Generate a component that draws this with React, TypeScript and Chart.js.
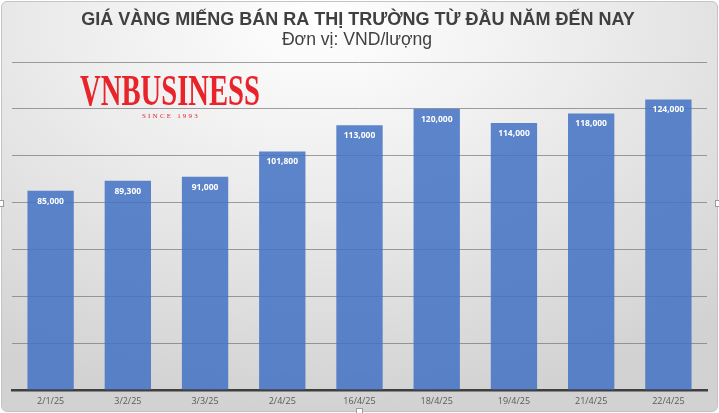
import React, { useEffect, useRef } from "react";
import { Chart, registerables } from "chart.js";

Chart.register(...registerables);

const categories = ["2/1/25", "3/2/25", "3/3/25", "2/4/25", "16/4/25", "18/4/25", "19/4/25", "21/4/25", "22/4/25"];
const prices = [85000, 89300, 91000, 101800, 113000, 120000, 114000, 118000, 124000];
const priceLabels = ["85,000", "89,300", "91,000", "101,800", "113,000", "120,000", "114,000", "118,000", "124,000"];
const yTicks = [0, 20000, 40000, 60000, 80000, 100000, 120000, 140000];
const titleText = "GIÁ VÀNG MIẾNG BÁN RA THỊ TRƯỜNG TỪ ĐẦU NĂM ĐẾN NAY";
const subtitleText = "Đơn vị: VND/lượng";
const logoText = "VNBUSINESS";
const logoSub = "SINCE 1993";

const overlayPlugin = {
  id: "overlay",
  afterDatasetsDraw(chart: any) {
    const ctx = chart.ctx;
    const meta = chart.getDatasetMeta(0);
    ctx.save();
    ctx.fillStyle = "#ffffff";
    ctx.font = "bold 8.5px 'Open Sans'";
    ctx.textAlign = "center";
    ctx.textBaseline = "middle";
    meta.data.forEach((bar: any, i: number) => {
      ctx.fillText(priceLabels[i], bar.x, bar.y + 10.5);
    });
    ctx.restore();
  },
  afterDraw(chart: any) {
    const ctx = chart.ctx;
    ctx.save();
    // title
    ctx.fillStyle = "#404040";
    ctx.textAlign = "center";
    ctx.textBaseline = "alphabetic";
    ctx.font = "bold 18px 'Liberation Sans'";
    ctx.fillText(titleText, 358, 24.5);
    ctx.font = "17.6px 'Liberation Sans'";
    ctx.fillText(subtitleText, 357, 45);
    // logo
    ctx.fillStyle = "#e8232a";
    ctx.font = "bold 44px 'Liberation Serif'";
    ctx.textAlign = "left";
    const w = ctx.measureText(logoText).width;
    ctx.save();
    ctx.translate(80, 105);
    ctx.scale(180 / w, 1);
    ctx.fillText(logoText, 0, 0);
    ctx.restore();
    ctx.font = "7px 'Liberation Serif'";
    (ctx as any).letterSpacing = "2.2px";
    ctx.fillText(logoSub, 142, 118);
    ctx.restore();
  },
};

export default function App() {
  const ref = useRef<HTMLCanvasElement | null>(null);
  useEffect(() => {
    if (!ref.current) return;
    const chart = new Chart(ref.current, {
      type: "bar",
      data: {
        labels: categories,
        datasets: [
          {
            data: prices,
            backgroundColor: "rgba(68,114,196,0.86)",
            borderWidth: 0,
            barPercentage: 0.6,
            categoryPercentage: 1,
          },
        ],
      },
      options: {
        responsive: false,
        animation: false,
        layout: { padding: { left: 12, right: 12, top: 62, bottom: 0 } },
        plugins: { legend: { display: false }, tooltip: { enabled: false }, title: { display: false } },
        scales: {
          x: {
            grid: { display: false, drawTicks: false },
            border: { display: true, color: "#3f3f3f", width: 2.5 },
            ticks: { color: "#595959", font: { family: "'Open Sans'", size: 9 }, padding: 6 },
            afterFit: (s: any) => {
              s.height = 23;
            },
          },
          y: {
            min: 0,
            max: 140000,
            afterBuildTicks: (s: any) => {
              s.ticks = yTicks.map((v) => ({ value: v }));
            },
            ticks: { display: false },
            grid: { color: "rgba(110,110,110,0.65)", lineWidth: 1, drawTicks: false },
            border: { display: false },
            afterFit: (s: any) => {
              s.width = 0;
            },
          },
        },
      },
      plugins: [overlayPlugin],
    });
    return () => chart.destroy();
  }, []);

  const handle = (style: React.CSSProperties) => (
    <div style={{ position: "absolute", width: 5, height: 7, background: "#fff", border: "1px solid #9a9a9a", boxSizing: "border-box", ...style }} />
  );

  return (
    <div style={{ position: "fixed", left: 0, top: 0, width: 719, height: 413, overflow: "hidden", background: "#fff" }}>
      <div
        style={{
          position: "absolute",
          left: 1,
          top: 1,
          width: 717,
          height: 411,
          boxSizing: "border-box",
          border: "1px solid #c4c4c4",
          borderRadius: 6,
          background: "radial-gradient(ellipse 85% 95% at 45% 5%, #ffffff 0%, #f0f0f0 35%, #e2e2e2 65%, #d2d2d2 100%)",
        }}
      />
      <canvas ref={ref} width={719} height={413} style={{ position: "absolute", left: 0, top: 0, width: 719, height: 413 }} />
      {handle({ left: -1, top: 200 })}
      {handle({ left: 715, top: 200 })}
      {handle({ left: 356, top: 408, width: 7, height: 6 })}
    </div>
  );
}
